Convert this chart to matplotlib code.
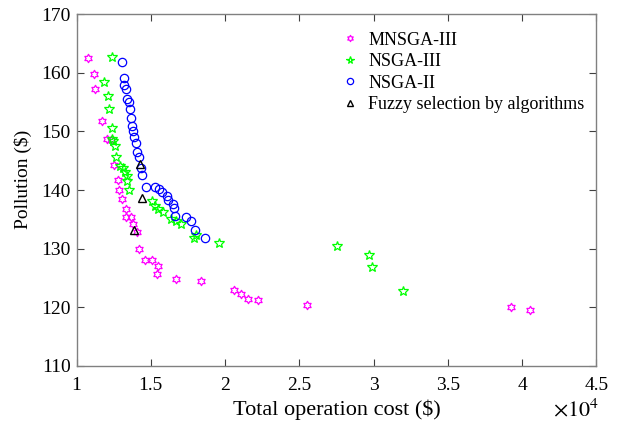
import numpy as np
import matplotlib.pyplot as plt
from matplotlib.path import Path

plt.rcParams['font.family'] = ['Liberation Serif', 'DejaVu Serif']
plt.rcParams['mathtext.fontset'] = 'stix'

# total operation cost (x 10^4 $), pollution ($)
mnsga3_cost = [1.078, 1.118, 1.125, 1.172, 1.202, 1.229, 1.251, 1.276, 1.287, 1.303,
               1.332, 1.332, 1.365, 1.377, 1.408, 1.419, 1.460, 1.509, 1.549, 1.545,
               1.673, 1.841, 2.059, 2.110, 2.156, 2.222, 2.552, 3.927, 4.050]
mnsga3_poll = [162.5, 159.8, 157.3, 151.8, 148.7, 148.5, 144.2, 141.7, 140.0, 138.5,
               136.7, 135.4, 135.4, 134.2, 132.9, 130.0, 128.0, 128.0, 127.1, 125.7,
               124.8, 124.5, 122.9, 122.3, 121.5, 121.2, 120.4, 120.1, 119.5]

nsga3_cost = [1.240, 1.186, 1.213, 1.217, 1.240, 1.242, 1.246, 1.262, 1.269, 1.296,
              1.315, 1.328, 1.338, 1.342, 1.354, 1.507, 1.529, 1.550, 1.581, 1.637,
              1.668, 1.702, 1.794, 1.805, 1.958, 2.750, 2.969, 2.987, 3.198]
nsga3_poll = [162.7, 158.4, 156.1, 153.8, 150.6, 148.7, 148.3, 147.5, 145.7, 144.1,
              143.8, 143.1, 142.4, 141.6, 140.0, 138.1, 137.3, 136.8, 136.3, 135.0,
              134.8, 134.2, 131.9, 132.3, 130.9, 130.4, 129.0, 126.8, 122.8]

nsga2_cost = [1.303, 1.320, 1.320, 1.332, 1.343, 1.350, 1.363, 1.370, 1.376, 1.382,
              1.389, 1.399, 1.409, 1.421, 1.431, 1.444, 1.466, 1.527, 1.556, 1.574,
              1.610, 1.616, 1.650, 1.657, 1.664, 1.740, 1.773, 1.796, 1.867]
nsga2_poll = [161.8, 159.1, 157.9, 157.3, 155.6, 155.0, 153.9, 152.3, 151.0, 150.0,
              149.1, 148.1, 146.5, 145.6, 143.8, 142.6, 140.5, 140.5, 140.2, 139.6,
              138.9, 138.3, 137.6, 137.0, 135.6, 135.4, 134.7, 133.2, 131.8]

fuzzy_cost = [1.426, 1.444, 1.384]
fuzzy_poll = [144.5, 138.7, 133.2]

# hexagram outline marker (MATLAB style)
ang = np.deg2rad(90 + 30 * np.arange(12))
rad = np.where(np.arange(12) % 2 == 0, 1.0, 1 / np.sqrt(3))
verts = np.column_stack([rad * np.cos(ang), rad * np.sin(ang)])
verts = np.vstack([verts, verts[:1]])
hexagram = Path(verts, [Path.MOVETO] + [Path.LINETO] * 11 + [Path.CLOSEPOLY])

fig = plt.figure(figsize=(6.22, 4.28), dpi=100)
ax = fig.add_axes([0.123, 0.145, 0.836, 0.822])

ax.plot(mnsga3_cost, mnsga3_poll, linestyle='none', marker=hexagram, ms=6,
        mfc='none', mec='#ff00ff', mew=0.9, label='MNSGA-III')
ax.plot(nsga3_cost, nsga3_poll, linestyle='none', marker='*', ms=7.5,
        mfc='none', mec='#00ff00', mew=0.9, label='NSGA-III')
ax.plot(nsga2_cost, nsga2_poll, linestyle='none', marker='o', ms=6,
        mfc='none', mec='#0000ff', mew=0.9, label='NSGA-II')
ax.plot(fuzzy_cost, fuzzy_poll, linestyle='none', marker='^', ms=6,
        mfc='none', mec='black', mew=1.0, label='Fuzzy selection by algorithms')

ax.set_xlim(1, 4.5)
ax.set_ylim(110, 170)
ax.set_xticks(np.arange(1, 4.51, 0.5))
ax.set_xticklabels(['1', '1.5', '2', '2.5', '3', '3.5', '4', '4.5'])
ax.set_yticks(np.arange(110, 171, 10))

ax.tick_params(direction='in', top=True, right=True, labelsize=14,
               length=5, color='#404040')
ax.tick_params(axis='x', pad=8)
ax.tick_params(axis='y', pad=4)
for s in ax.spines.values():
    s.set_color('#808080')
    s.set_linewidth(1.0)

ax.set_xlabel('Total operation cost ($)', fontsize=16)
ax.xaxis.set_label_coords(0.5, -0.095)
ax.set_ylabel('Pollution ($)', fontsize=14)
ax.yaxis.set_label_coords(-0.085, 0.53)
ax.text(553 / 622, 1 - 410 / 428, r'$\times 10^4$', transform=fig.transFigure,
        fontsize=16, ha='left', va='center')

leg = ax.legend(loc='upper right', frameon=False, fontsize=13,
                bbox_to_anchor=(0.977, 0.95), borderaxespad=0, borderpad=0,
                handlelength=1.0, handletextpad=0.5,
                labelspacing=0.25, markerscale=0.75)

fig.savefig('out.png', dpi=100)
